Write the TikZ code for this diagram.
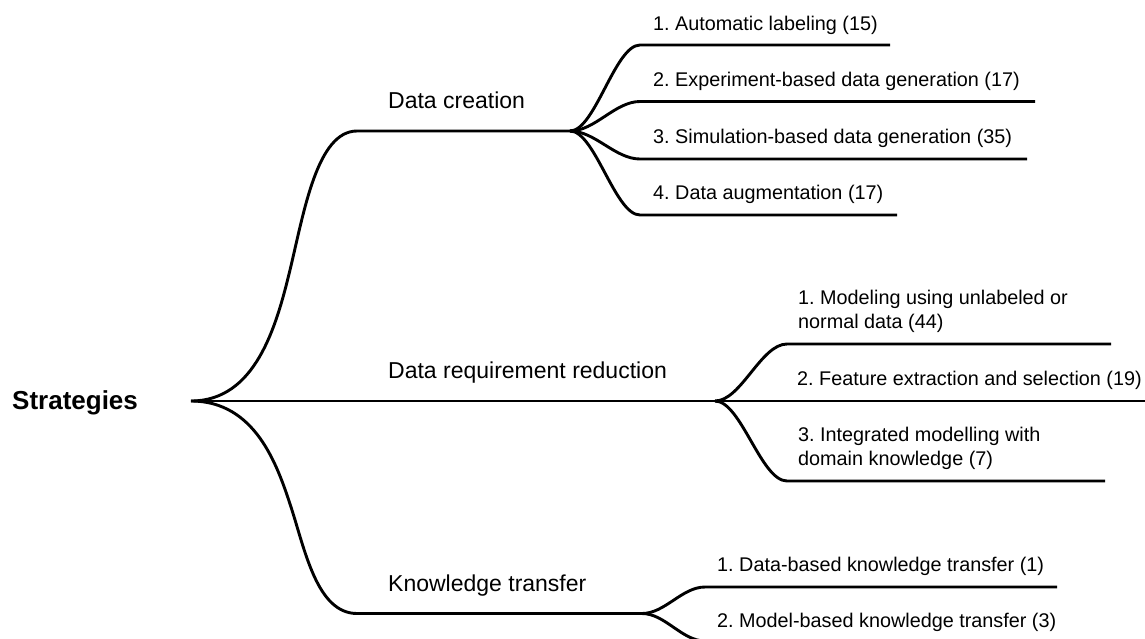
\documentclass[tikz,border=0pt]{standalone}
\usepackage{fontspec}
\setmainfont{Liberation Sans}
\frenchspacing
\begin{document}
\begin{tikzpicture}[x=1pt,y=-1pt,
  br/.style={line width=2.9pt, line join=round},
  sublbl/.style={font=\fontsize{19.8}{24}\selectfont, inner sep=0pt, anchor=base west, align=left},
  mainlbl/.style={font=\fontsize{23}{27}\selectfont, inner sep=0pt, anchor=base west},
  rootlbl/.style={font=\fontsize{26}{30}\selectfont\bfseries, inner sep=0pt, anchor=base west}]
\useasboundingbox (0,0) rectangle (1145,638);
\clip (0,0) rectangle (1145,638);

% root
\node[rootlbl] (root-t) at (12,409) {Strategies};
\coordinate (root) at (191,401);

% main branches
\coordinate (dcM) at (290,270);
\coordinate (dcA) at (357,131);
\coordinate (dcF) at (570,131);
\coordinate (ktM) at (291,507);
\coordinate (ktA) at (357,613.5);
\coordinate (ktF) at (642,613.5);
\coordinate (drrF) at (715,401);
\coordinate (drr2b) at (1150,401);

\draw[br] (root) .. controls (255,401) and (276,328) .. (dcM)
  .. controls (304,212) and (317,131) .. (dcA) -- (dcF);
\draw[br] (root) -- (drrF) -- (drr2b);
\draw[br] (root) .. controls (255,401) and (277,464) .. (ktM)
  .. controls (305,550) and (317,613.5) .. (ktA) -- (ktF);

\node[mainlbl] (dc-t) at (388,108) {Data creation};
\node[mainlbl] (drr-t) at (388,378) {Data requirement reduction};
\node[mainlbl] (kt-t) at (388,591) {Knowledge transfer};

% data creation sub-branches
\coordinate (dc1a) at (640,45);    \coordinate (dc1b) at (890,45);
\coordinate (dc2a) at (640,101.5); \coordinate (dc2b) at (1035,101.5);
\coordinate (dc3a) at (640,159);   \coordinate (dc3b) at (1027,159);
\coordinate (dc4a) at (640,215);   \coordinate (dc4b) at (897,215);
\foreach \i in {1,2,3,4}
  \draw[br] (dcF) .. controls +(25,0) and +(-25,0) .. (dc\i a) -- (dc\i b);

\node[sublbl] (dc1-t) at (653,30) {1. Automatic labeling (15)};
\node[sublbl] (dc2-t) at (653,86) {2. Experiment-based data generation (17)};
\node[sublbl] (dc3-t) at (653,143.5) {3. Simulation-based data generation (35)};
\node[sublbl] (dc4-t) at (653,199.5) {4. Data augmentation (17)};

% data requirement reduction sub-branches
\coordinate (drr1a) at (787,344); \coordinate (drr1b) at (1111,344);
\coordinate (drr3a) at (787,481); \coordinate (drr3b) at (1105,481);
\draw[br] (drrF) .. controls +(26,0) and +(-26,0) .. (drr1a) -- (drr1b);
\draw[br] (drrF) .. controls +(26,0) and +(-26,0) .. (drr3a) -- (drr3b);

\node[sublbl] (drr1-t) at (798,328) {1. Modeling using unlabeled or\\normal data (44)};
\node[sublbl] (drr2-t) at (797,385) {2. Feature extraction and selection (19)};
\node[sublbl] (drr3-t) at (798,465) {3. Integrated modelling with\\domain knowledge (7)};

% knowledge transfer sub-branches
\coordinate (kt1a) at (705,587); \coordinate (kt1b) at (1057,587);
\coordinate (kt2a) at (705,641); \coordinate (kt2b) at (1057,641);
\draw[br] (ktF) .. controls +(23,0) and +(-23,0) .. (kt1a) -- (kt1b);
\draw[br] (ktF) .. controls +(23,0) and +(-23,0) .. (kt2a) -- (kt2b);

\node[sublbl] (kt1-t) at (717,571.5) {1. Data-based knowledge transfer (1)};
\node[sublbl] (kt2-t) at (717,627) {2. Model-based knowledge transfer (3)};
\end{tikzpicture}
\end{document}
